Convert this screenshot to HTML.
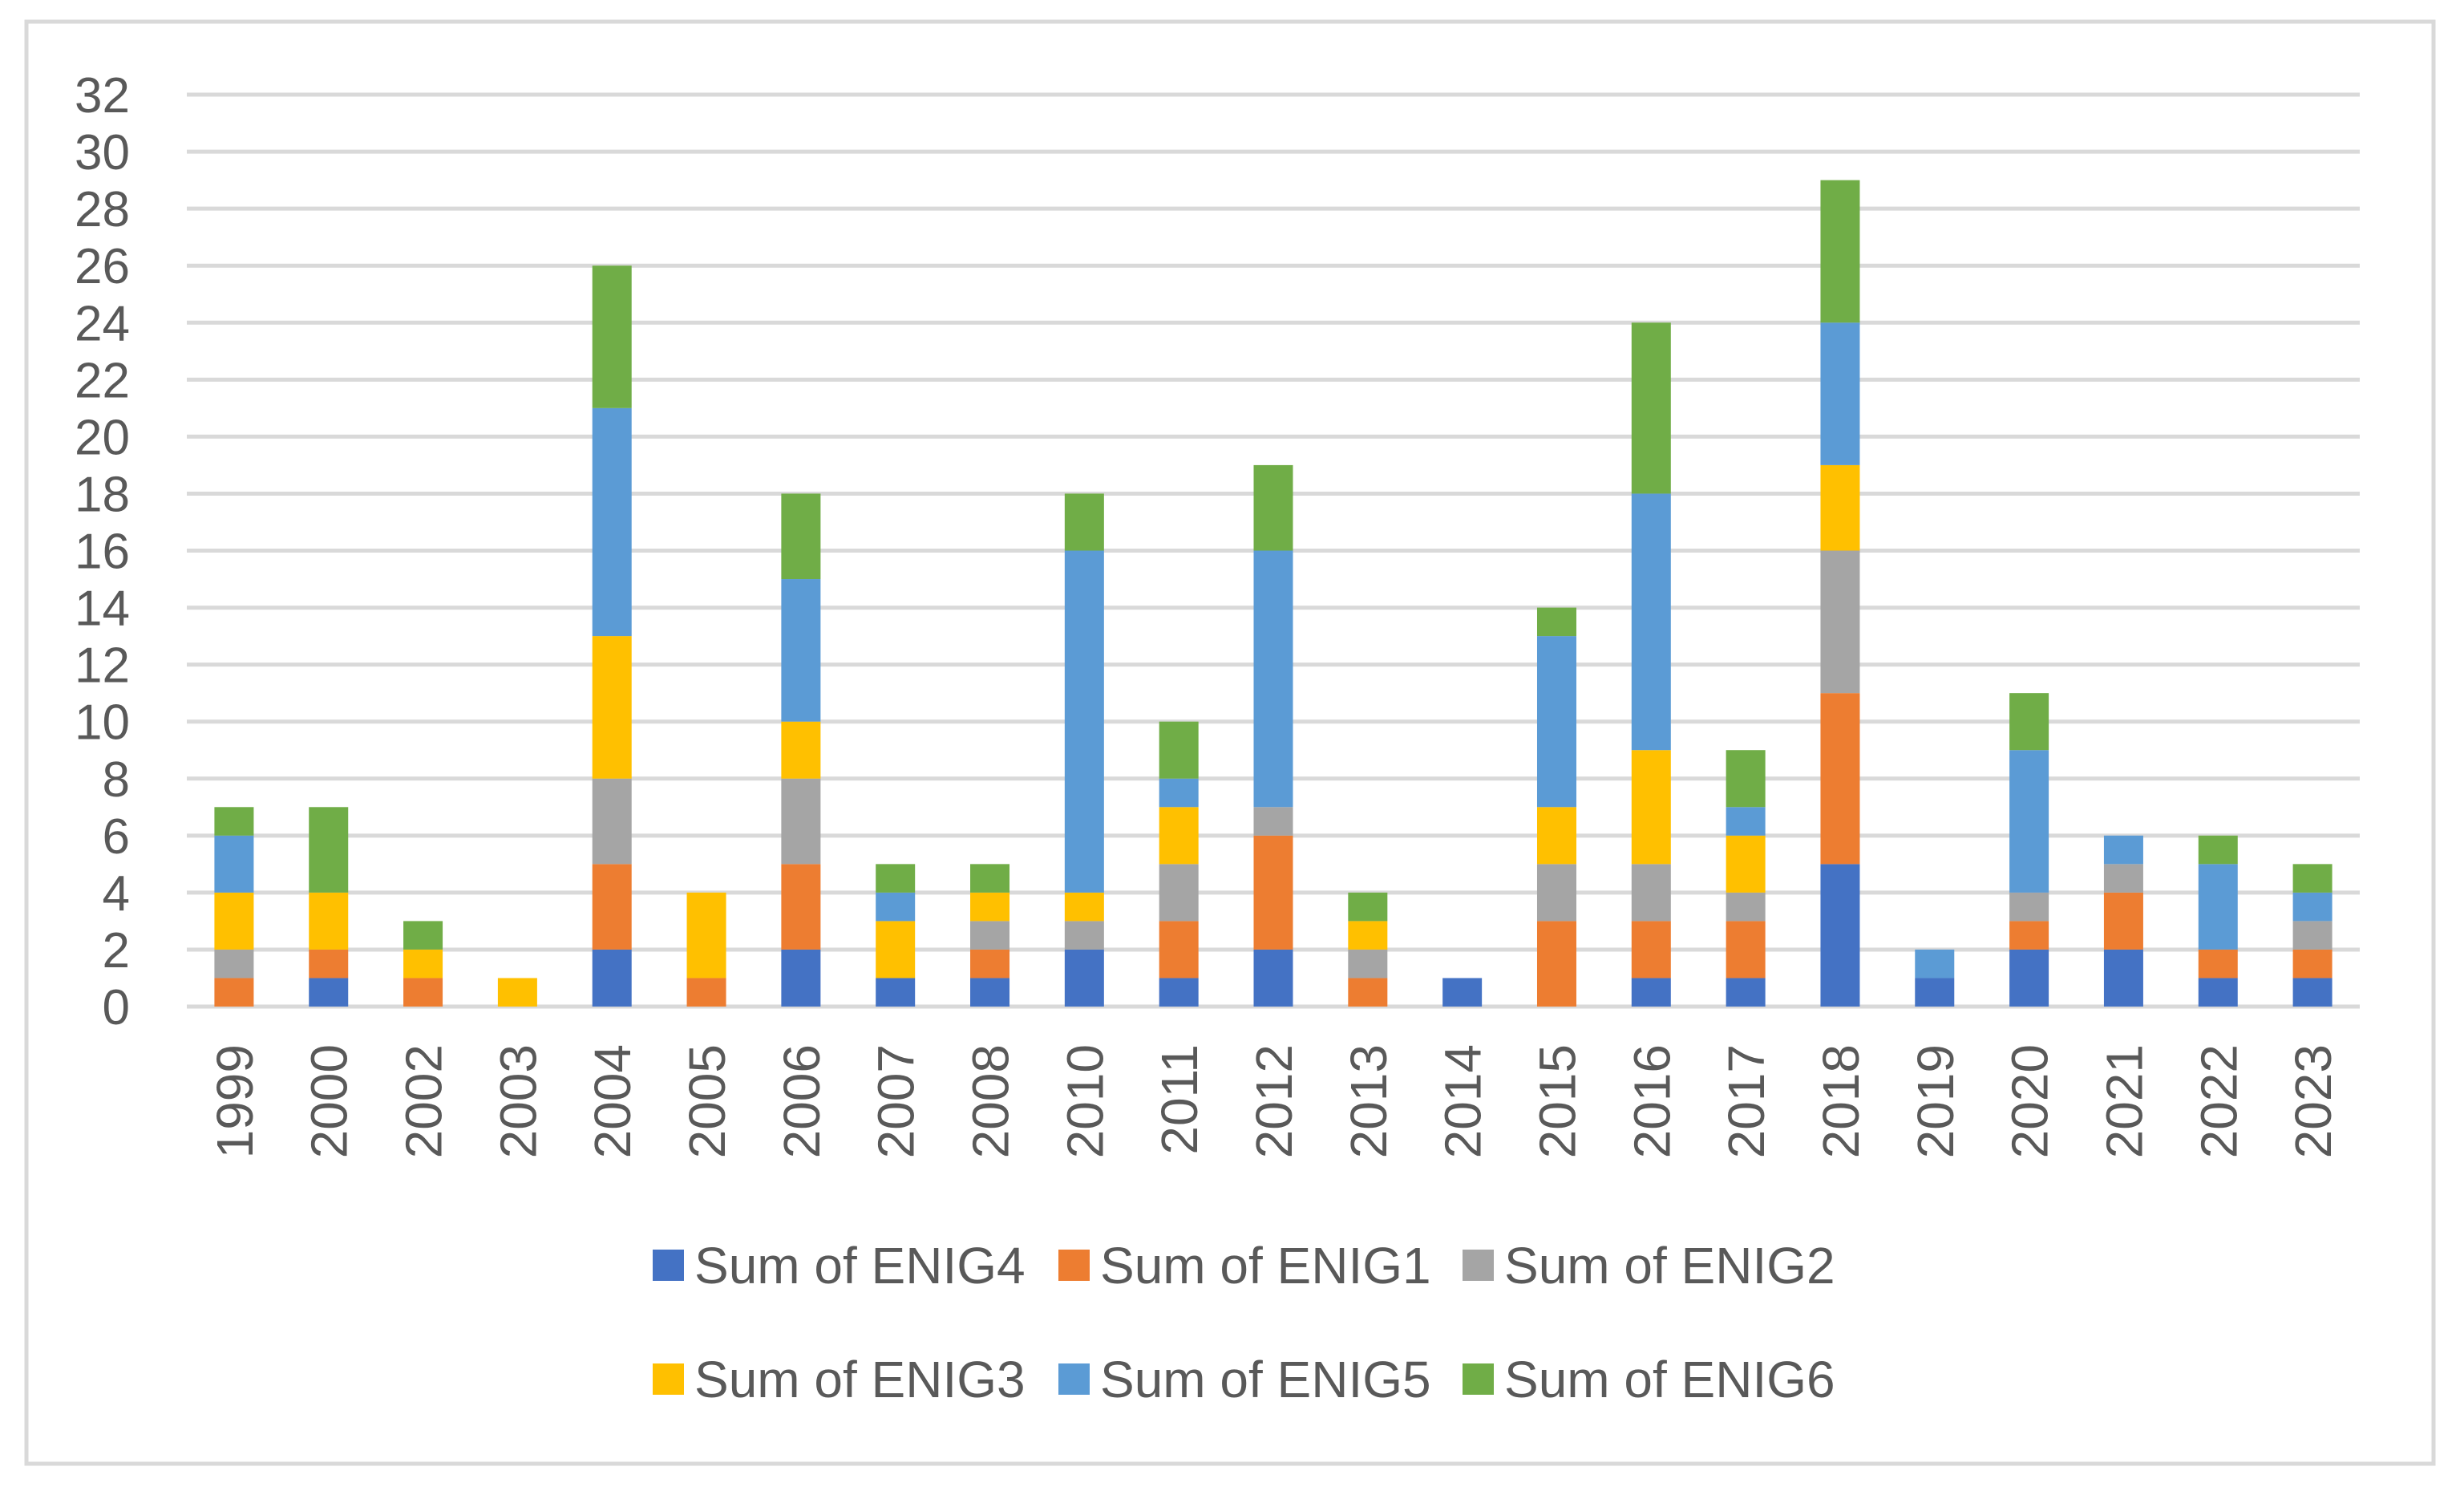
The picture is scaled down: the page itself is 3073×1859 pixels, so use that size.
<!DOCTYPE html>
<html><head><meta charset="utf-8"><style>
html,body{margin:0;padding:0;background:#fff;}
svg{display:block;font-family:"Liberation Sans",sans-serif;}
</style></head><body>
<svg id="chart" width="3073" height="1859" viewBox="0 0 3073 1859">
<rect x="33" y="27" width="3002" height="1798" fill="#fff" stroke="#d9d9d9" stroke-width="5"/>
<g id="grid"></g>
<g id="yticks"></g>
<g id="bars"></g>
<g id="xticks"></g>
<g id="legend"></g>
</svg>
<script>
const years = ["1999","2000","2002","2003","2004","2005","2006","2007","2008","2010","2011","2012","2013","2014","2015","2016","2017","2018","2019","2020","2021","2022","2023"];
const enig4 = [0,1,0,0,2,0,2,1,1,2,1,2,0,1,0,1,1,5,1,2,2,1,1];
const enig1 = [1,1,1,0,3,1,3,0,1,0,2,4,1,0,3,2,2,6,0,1,2,1,1];
const enig2 = [1,0,0,0,3,0,3,0,1,1,2,1,1,0,2,2,1,5,0,1,1,0,1];
const enig3 = [2,2,1,1,5,3,2,2,1,1,2,0,1,0,2,4,2,3,0,0,0,0,0];
const enig5 = [2,0,0,0,8,0,5,1,0,12,1,9,0,0,6,9,1,5,1,5,1,3,1];
const enig6 = [1,3,1,0,5,0,3,1,1,2,2,3,1,0,1,6,2,5,0,2,0,1,1];
const seriesNames = ["Sum of ENIG4","Sum of ENIG1","Sum of ENIG2","Sum of ENIG3","Sum of ENIG5","Sum of ENIG6"];
const yTicks = [0,2,4,6,8,10,12,14,16,18,20,22,24,26,28,30,32];

const series = [enig4,enig1,enig2,enig3,enig5,enig6];
const colors = ["#4472c4","#ed7d31","#a5a5a5","#ffc000","#5b9bd5","#70ad47"];
const NS="http://www.w3.org/2000/svg";
const plotL=233, plotR=2943, y0=1255, yTop=118, yMax=32;
const band=(plotR-plotL)/years.length, barW=49;
function yPos(v){return y0-(v/yMax)*(y0-yTop);}
function xCenter(i){return plotL+band*(i+0.5);}
function mk(tag,attrs,parent){const e=document.createElementNS(NS,tag);for(const k in attrs)e.setAttribute(k,attrs[k]);parent.appendChild(e);return e;}

const grid=document.getElementById('grid'), yt=document.getElementById('yticks');
yTicks.forEach(t=>{
  const l=mk('line',{x1:plotL,x2:plotR,y1:yPos(t),y2:yPos(t),stroke:'#d9d9d9','stroke-width':5},grid);
  
  
  const tx=mk('text',{x:162,y:yPos(t)+22,'text-anchor':'end','font-size':62,fill:'#595959'},yt);
  tx.textContent=t;
  
  
});

const bars=document.getElementById('bars'), xt=document.getElementById('xticks');
years.forEach((yr,i)=>{
  let cum=0;
  series.forEach((s,k)=>{
    const v=s[i]; if(!v) return;
    const r=mk('rect',{x:xCenter(i)-barW/2,y:yPos(cum+v),width:barW,height:yPos(cum)-yPos(cum+v),fill:colors[k]},bars);
    
    
    cum+=v;
  });
  const tx=mk('text',{x:0,y:0,'text-anchor':'end','font-size':64,fill:'#595959',transform:`translate(${xCenter(i)+23},1302) rotate(-90)`},xt);
  tx.textContent=yr;
  
  
});

const lg=document.getElementById('legend');
const lx=[814,1320,1824], ly=[1578,1720];
seriesNames.forEach((n,k)=>{
  const col=k%3,row=Math.floor(k/3);
  const g=mk('g',{},lg);
  
  
  mk('rect',{x:lx[col],y:ly[row]-20,width:39,height:39,fill:colors[k]},g);
  const t=mk('text',{x:lx[col]+52,y:ly[row]+22,'font-size':64,fill:'#595959'},g);
  t.textContent=n;
});
</script>
</body></html>
